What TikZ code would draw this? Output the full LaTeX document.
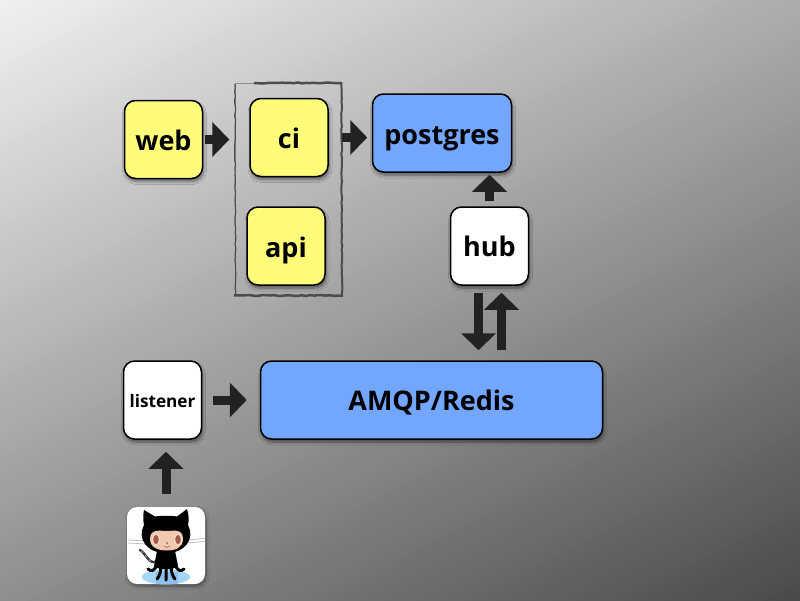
\documentclass[tikz,border=0pt]{standalone}
\usepackage{fontspec}
\setmainfont{Open Sans}
\usetikzlibrary{arrows.meta,shadows.blur,decorations.pathmorphing}
\definecolor{yel}{HTML}{FFFC79}
\definecolor{blu}{HTML}{73A7FF}
\definecolor{ink}{HTML}{222222}
\definecolor{facec}{HTML}{F2C9AE}
\definecolor{eyeo}{HTML}{F7DCC8}
\definecolor{eyei}{HTML}{A65A4C}
\definecolor{icec}{HTML}{A5D6F5}
\definecolor{iced}{HTML}{8FBFEE}
\tikzset{
 box/.style={draw=black,line width=1.5pt,rounded corners=11pt,minimum width=78pt,minimum height=78pt,inner sep=0pt,
  font=\bfseries\fontsize{27}{30}\selectfont,text=black,text height=28pt,text depth=6pt,
  blur shadow={shadow xshift=1pt,shadow yshift=-3pt,shadow blur steps=6,shadow blur radius=3pt,shadow opacity=50}},
 yelbox/.style={box,fill=yel},
 whitebox/.style={box,fill=white},
 blubox/.style={box,fill=blu},
 conn/.style={draw=ink,line width=9pt,-{Triangle[length=17pt,width=34pt]}},
 grp/.style={draw=black!45,line width=.8pt,minimum width=106pt,minimum height=212pt,inner sep=0pt},
 rough/.style={draw=black!70,decorate,decoration={random steps,segment length=4pt,amplitude=.5pt}},
 tile/.style={fill=white,rounded corners=10pt,minimum width=78pt,minimum height=77pt,inner sep=0pt,
  blur shadow={shadow xshift=1pt,shadow yshift=-2pt,shadow blur steps=6,shadow blur radius=3pt,shadow opacity=45}},
}
\begin{document}
\begin{tikzpicture}[x=1pt,y=-1pt]
\useasboundingbox (0,0) rectangle (800,600);
\begin{scope}
\clip (0,0) rectangle (800,600);
\begin{scope}[rotate=-62.4]
\foreach \i in {0,...,168}{
  \pgfmathsetmacro{\gv}{(240.5-\i)/255}
  \pgfmathsetmacro{\uu}{\i*5.405}
  \definecolor{bgc}{gray}{\gv}
  \fill[bgc] (\uu,-1300) rectangle (1300,1300);
}
\end{scope}
\end{scope}
\node[grp] (group) at (288.5,189) {};
\draw[rough,line width=1.2pt] (235,84) -- (235.5,294);
\draw[rough,line width=2pt] (341.5,82) -- (342,296);
\draw[rough,line width=2.5pt] (254,83) -- (342,83);
\draw[rough,line width=2.5pt] (234,295.5) -- (343,295.5);
\node[yelbox] (web) at (163.5,139.5) {web};
\node[yelbox] (ci) at (289,137.5) {ci};
\node[yelbox] (api) at (286,246) {api};
\node[blubox,minimum width=139pt] (postgres) at (442,133) {postgres};
\node[whitebox,text height=27pt] (hub) at (489.5,246) {hub};
\node[whitebox,font=\bfseries\fontsize{17.2}{20}\selectfont,text height=20pt] (listener) at (162.5,400) {listener};
\node[blubox,minimum width=342pt,text height=27pt] (amqp) at (431.5,400) {AMQP/Redis};
% octocat tile
\node[tile] (octo) at (166,545.5) {};
\draw[black!28,line width=.7pt] (128,540) -- (146,541) (128,543) -- (146,544) (186,540) -- (204.5,538.5) (186,543) -- (204.5,541.5);
\fill[icec] (166,577) ellipse (24 and 7.5);
\fill[iced] (156,572) rectangle (178,584);
\draw[black!80,line width=2.4pt,line cap=round] (157,561) .. controls (149,566) and (146,553) .. (140,550);
\draw[black!20,line width=.5pt,dashed] (157,561) .. controls (149,566) and (146,553) .. (140,550);
\fill[black] (157,551) -- (175,551) -- (178,566) -- (172,569) -- (160,569) -- (154,566) -- cycle;
\draw[black,line width=3pt,line cap=round]
 (157,564) .. controls (155,571) and (151,572) .. (148,569)
 (161,566) .. controls (161,572) and (159,577) .. (157,579)
 (166,566) -- (166,580)
 (171,566) .. controls (171,572) and (173,577) .. (175,579)
 (175,564) .. controls (177,571) and (181,572) .. (184,569);
\fill[black] (144,510) -- (155,516.5) .. controls (161,515.5) and (171,515.5) .. (177,516.5) -- (187,509)
 .. controls (189,515) and (189,520) .. (188,525) .. controls (195,538) and (186,553) .. (166,553)
 .. controls (146,553) and (137,538) .. (144,525) .. controls (143,520) and (143,515) .. (144,510) -- cycle;
\fill[facec] (167,531) .. controls (173,531) and (183,528) .. (183,539)
 .. controls (183,548) and (175,550.5) .. (167,550.5) .. controls (159,550.5) and (150,548) .. (150,539)
 .. controls (150,528) and (161,531) .. (167,531) -- cycle;
\fill[eyeo] (156,539.5) ellipse (4 and 6) (178,539.5) ellipse (4 and 6);
\fill[eyei] (156,539.5) ellipse (2.8 and 4.6) (178,539.5) ellipse (2.8 and 4.6);
\fill[eyei] (167,543) circle (1);
\draw[eyei,line width=.5pt] (164,546) .. controls (166,548) and (168,548) .. (170,546);
% connectors
\draw[conn,shorten <=2pt,shorten >=5.8pt] (web) -- (group.west |- web);
\draw[conn,shorten >=4.5pt] (group.east |- ci) -- (postgres.west |- ci);
\coordinate (hubl) at ([xshift=-11pt]hub.south);
\coordinate (hubr) at ([xshift=12pt]hub.south);
\coordinate (amql) at (hubl |- amqp.north);
\coordinate (amqr) at (hubr |- amqp.north);
\draw[conn,shorten <=7pt,shorten >=10pt] (hubl) -- (amql);
\draw[conn,shorten <=10pt,shorten >=7pt] (amqr) -- (hubr);
\draw[conn,shorten <=5pt,shorten >=2pt] (hub.north) -- (postgres.south -| hub.north);
\draw[conn,shorten <=11pt,shorten >=13pt] (listener) -- (amqp.west);
\draw[conn,shorten <=13pt,shorten >=12pt] (octo.north) -- (octo.north |- listener.south);
\end{tikzpicture}
\end{document}
